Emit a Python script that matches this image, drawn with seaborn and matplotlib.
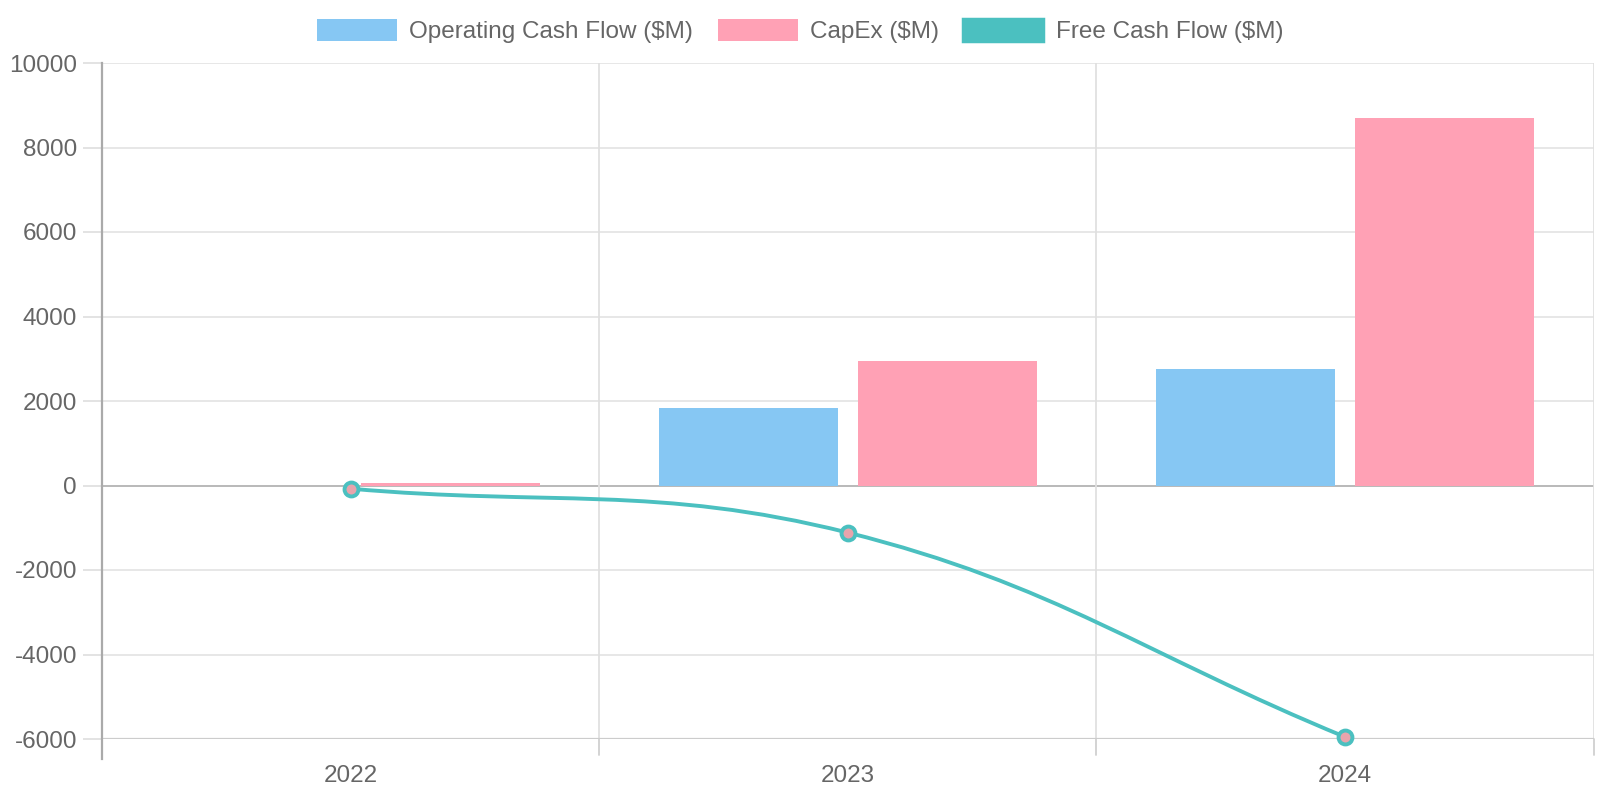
import numpy as np
import pandas as pd
import matplotlib
matplotlib.use("Agg")
import matplotlib.pyplot as plt
from matplotlib.path import Path
from matplotlib.patches import PathPatch, Patch
import seaborn as sns

# Dati
years = ["2022", "2023", "2024"]
operating_cf = [0, 1830, 2750]
capex = [50, 2945, 8700]
free_cf = [-75, -1115, -5950]

series_names = ["Operating Cash Flow ($M)", "CapEx ($M)", "Free Cash Flow ($M)"]
y_ticks = [-6000, -4000, -2000, 0, 2000, 4000, 6000, 8000, 10000]

col_ocf = "#86c7f3"
col_capex = "#ffa1b5"
col_fcf = "#4bc0c0"
txt = "#666666"

sns.set_theme(style="white")
plt.rcParams["font.family"] = ["Liberation Sans", "DejaVu Sans"]

df = pd.DataFrame({
    "year": years * 2,
    "value": operating_cf + capex,
    "serie": [series_names[0]] * 3 + [series_names[1]] * 3,
})

fig = plt.figure(figsize=(16, 8), dpi=100)
ax = fig.add_axes([0.06375, 0.07625, 0.93225, 0.845])

sns.barplot(data=df, x="year", y="value", hue="serie", order=years,
            hue_order=series_names[:2], palette=[col_ocf, col_capex],
            width=0.8, gap=0.1, saturation=1, legend=False, linewidth=0,
            ax=ax, zorder=2)

ax.set_xlim(-0.5, 2.5)
ax.set_ylim(-6000, 10000)
ax.set_yticks(y_ticks)
ax.set_yticklabels([str(v) for v in y_ticks])
ax.set_xlabel("")
ax.set_ylabel("")

# griglia stile Chart.js
for v in y_ticks:
    ax.axhline(v, color="#b3b3b3" if v == 0 else "#e5e5e5", lw=1.3, zorder=1)
for xb in [0.5, 1.5, 2.5]:
    ax.axvline(xb, color="#e0e0e0", lw=1.3, zorder=1)
for xb in [-0.5, 0.5, 1.5, 2.5]:
    ax.plot([xb, xb], [-6000, -6000 - 16 / 676 * 16000], color="#d0d0d0", lw=1.3,
            clip_on=False, zorder=1)
ax.axhline(-6000, color="#cccccc", lw=1.6, zorder=1)

for s in ["top", "right", "bottom"]:
    ax.spines[s].set_visible(False)
ax.spines["left"].set_color("#aaaaaa")
ax.spines["left"].set_linewidth(1.6)
ax.spines["left"].set_bounds(-6000 - 5 / 676 * 16000 * 4, 10000)
ax.tick_params(axis="y", length=14, color="#e0e0e0", width=1.3, labelsize=17.5,
               labelcolor=txt, pad=4, left=True)
ax.tick_params(axis="x", length=0, labelsize=17.5, labelcolor=txt, pad=19)

# curva liscia (tension 0.4) calcolata in pixel
fig.canvas.draw()
xs = np.arange(len(years))
pts = ax.transData.transform(np.column_stack([xs, free_cf]))
t = 0.4
n = len(pts)
cp_prev = []
cp_next = []
for i in range(n):
    p0 = pts[i - 1] if i > 0 else pts[i]
    p1 = pts[i]
    p2 = pts[i + 1] if i < n - 1 else pts[i]
    d01 = np.hypot(*(p1 - p0))
    d12 = np.hypot(*(p2 - p1))
    s01 = d01 / (d01 + d12) if d01 + d12 else 0
    s12 = d12 / (d01 + d12) if d01 + d12 else 0
    cp_prev.append(p1 - t * s01 * (p2 - p0))
    cp_next.append(p1 + t * s12 * (p2 - p0))
verts = [pts[0]]
codes = [Path.MOVETO]
for i in range(n - 1):
    verts += [cp_next[i], cp_prev[i + 1], pts[i + 1]]
    codes += [Path.CURVE4] * 3
inv = ax.transData.inverted()
verts = inv.transform(np.array(verts))
ax.add_patch(PathPatch(Path(verts, codes), facecolor="none", edgecolor=col_fcf,
                       lw=2.8, zorder=3, clip_on=False))
ax.plot(xs, free_cf, ls="none", marker="o", ms=10, mfc="#e8a4ac", mec=col_fcf,
        mew=2.8, zorder=4, clip_on=False)

handles = [Patch(facecolor=col_ocf, edgecolor=col_ocf, lw=0),
           Patch(facecolor=col_capex, edgecolor=col_capex, lw=0),
           Patch(facecolor=col_fcf, edgecolor=col_fcf, lw=2.5)]
leg = fig.legend(handles, series_names, loc="center", bbox_to_anchor=(0.5, 0.961),
                 ncol=3, frameon=False, fontsize=17.5, handlelength=3.3,
                 handleheight=1.0, handletextpad=0.5, columnspacing=1.0)
for tx in leg.get_texts():
    tx.set_color(txt)

fig.savefig("out.png", dpi=100)
